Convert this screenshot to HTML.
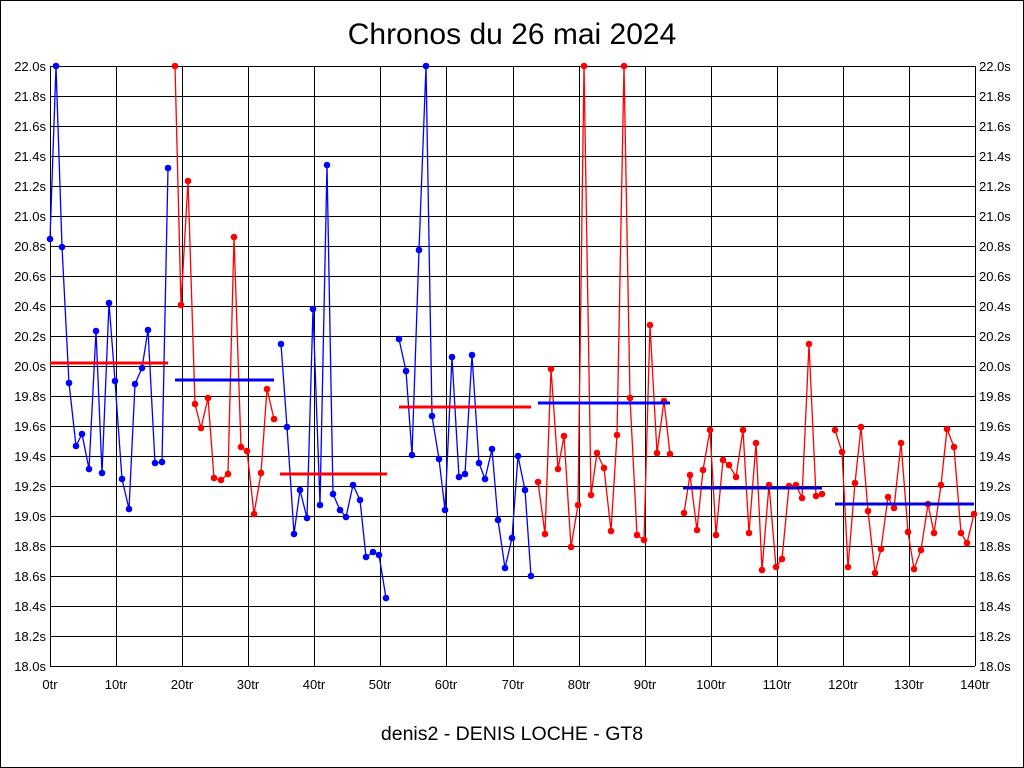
<!DOCTYPE html>
<html><head><meta charset="utf-8"><style>
html,body{margin:0;padding:0;background:#fff;}
svg{display:block;}
text{font-family:"Liberation Sans",sans-serif;}
</style></head><body>
<svg id="s" width="1024" height="768" xmlns="http://www.w3.org/2000/svg">
<rect x="0.5" y="0.5" width="1023" height="767" fill="#fff" stroke="#000"/>
<text x="512" y="44" font-size="30" text-anchor="middle">Chronos du 26 mai 2024</text>
<text x="512" y="740" font-size="19.5" text-anchor="middle">denis2 - DENIS LOCHE - GT8</text>
<g id="grid" stroke="#000" stroke-width="1"></g>
<g id="lab" font-size="13"></g>
<g id="data"></g>
</svg>
<script>
var NS="http://www.w3.org/2000/svg";
function el(p,t,a,txt){var e=document.createElementNS(NS,t);for(var k in a)e.setAttribute(k,a[k]);if(txt!=null)e.textContent=txt;document.getElementById(p).appendChild(e);return e;}
for(var i=0;i<=20;i++){var y=66+i*30;el("grid","line",{x1:50,x2:975,y1:y+.5,y2:y+.5});
var v=(22-i*0.2).toFixed(1)+"s";el("lab","text",{x:46,y:y+5,"text-anchor":"end"},v);el("lab","text",{x:979,y:y+5},v);}
for(var j=0;j<=14;j++){var x=Math.round(50+j*10*925/140);el("grid","line",{x1:x+.5,x2:x+.5,y1:66,y2:666});
el("lab","text",{x:x,y:689,"text-anchor":"middle"},(j*10)+"tr");}
var segs=[
["#00f","50,239 56,66 62,247 69,383 76,446 82,434 89,469 96,331 102,473 109,303 115,381 122,479 129,509 135,384 142,368 148,330 155,463 162,462 168,168"],
["#f00","175,66 181,305 188,181 195,404 201,428 208,398 214,478 221,480 228,474 234,237 241,447 247,451 254,514 261,473 267,389 274,419"],
["#00f","281,344 287,427 294,534 300,490 307,518 313,309 320,505 327,165 333,494 340,510 346,517 353,485 360,500 366,557 373,552 379,555 386,598"],
["#00f","399,339 406,371 412,455 419,250 426,66 432,416 439,459 445,510 452,357 459,477 465,474 472,355 479,463 485,479 492,449 498,520 505,568 512,538 518,456 525,490 531,576"],
["#f00","538,482 545,534 551,369 558,469 564,436 571,547 578,505 584,66 591,495 597,453 604,468 611,531 617,435 624,66 630,398 637,535 644,540 650,325 657,453 664,401 670,454"],
["#f00","684,513 690,475 697,530 703,470 710,430 716,535 723,460 729,465 736,477 743,430 749,533 756,443 762,570 769,485 776,567 782,559 789,486 796,485 802,498 809,344 816,496 822,494"],
["#f00","835,430 842,452 848,567 855,483 861,427 868,511 875,573 881,549 888,497 894,508 901,443 908,532 914,569 921,550 928,504 934,533 941,485 947,429 954,447 961,533 967,543 974,514"]];
segs.forEach(function(s){el("data","polyline",{points:s[1],fill:"none",stroke:s[0],"stroke-width":1.3});
s[1].split(" ").forEach(function(p){var q=p.split(",");el("data","circle",{cx:q[0],cy:q[1],r:3.3,fill:s[0]});});});
var avg=[["#f00",50,168,363],["#00f",175,274,380],["#f00",280,387,474],["#f00",399,531,407],["#00f",538,670,403],["#0000dd",683,822,488],["#0000dd",835,974,504]];
avg.forEach(function(a){el("data","line",{x1:a[1],x2:a[2],y1:a[3],y2:a[3],stroke:a[0],"stroke-width":3});});
</script>
</body></html>
